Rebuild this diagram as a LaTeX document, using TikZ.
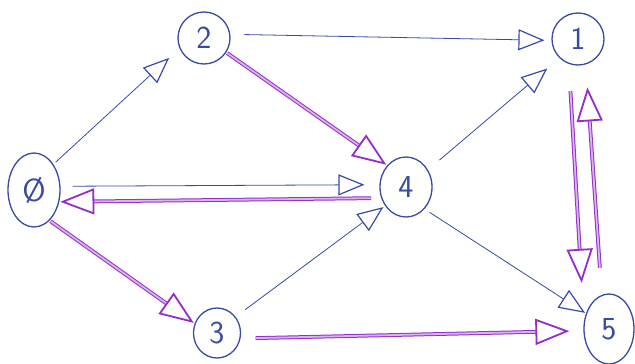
\documentclass[tikz,border=0pt]{standalone}
\usetikzlibrary{arrows.meta,shapes.geometric}
\definecolor{inkblue}{RGB}{55,75,165}
\definecolor{inkpurple}{RGB}{150,45,200}
\begin{document}
\begin{tikzpicture}[x=1pt,y=-1pt,
  vtx/.style={ellipse, draw=inkblue, line width=1.3pt, text=inkblue, inner sep=0pt,
    font=\sffamily\fontsize{32}{32}\selectfont},
  bl/.style={draw=inkblue, line width=0.8pt,
    -{Triangle[open, length=26pt, width=21pt, line width=1.2pt]}},
  pu/.style={draw=inkpurple, line width=1pt, double=inkpurple!35, double distance=1.8pt,
    -{Triangle[open, length=34pt, width=26pt, line width=1.8pt]}}]
\useasboundingbox (0,0) rectangle (635,364);
\fill[white] (0,0) rectangle (635,364);
% nodes
\node[vtx, minimum width=52pt, minimum height=74pt] (n0) at (34,190) {Ø};
\node[vtx, minimum width=52pt, minimum height=52pt] (n2) at (204,38) {2};
\node[vtx, minimum width=52pt, minimum height=52pt] (n1) at (578,39) {1};
\node[vtx, minimum width=52pt, minimum height=60pt] (n4) at (406,187) {4};
\node[vtx, minimum width=50pt, minimum height=70pt] (n5) at (609,329) {5};
\node[vtx, minimum width=47pt, minimum height=50pt] (n3) at (217,333) {3};
% blue edges
\draw[bl, shorten <=3pt, shorten >=14pt] (n0.53) -- (n2.203);
\draw[bl, shorten <=14pt, shorten >=7pt] (n2.8) -- (n1.183);
\draw[bl, shorten <=12pt, shorten >=15pt] (n0.8) -- (n4.175);
\draw[bl, shorten <=15pt, shorten >=16pt] (n4.38) -- (n1.226);
\draw[bl, shorten <=12pt, shorten >=2pt] (n3.41) -- (n4.222);
\draw[bl, shorten <=6pt, shorten >=1pt] (n4.-50) -- (n5.146);
% purple edges
\draw[pu, shorten <=1pt, shorten >=1pt] (n2.-33) -- (n4.131);
\draw[pu, shorten <=10pt, shorten >=1pt] (n4.204) -- (n0.-25);
\draw[pu, shorten <=1pt, shorten >=1pt] (n0.-63) -- (n3.157);
\draw[pu, shorten <=15pt, shorten >=14pt] (n3.-13) -- (n5.184);
\draw[pu, shorten <=27pt, shorten >=39pt] (n1.250) -- (n5.164);
\draw[pu, shorten <=27pt, shorten >=23pt] (n5.102) -- (n1.-73);
\end{tikzpicture}
\end{document}
